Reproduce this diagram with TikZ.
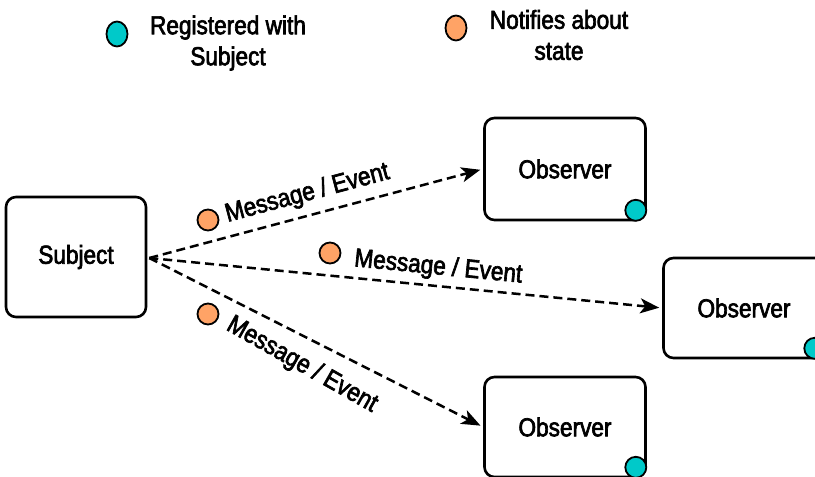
\documentclass[tikz,border=0pt]{standalone}
\usepackage{fontspec}
\setmainfont{Liberation Sans}[FakeStretch=0.87,FakeBold=2.5]
\usetikzlibrary{arrows.meta,calc,shapes.geometric}
\definecolor{tealdot}{RGB}{0,201,201}
\definecolor{orangedot}{RGB}{255,163,102}
\begin{document}
\begin{tikzpicture}[x=1pt,y=-1pt,
  font=\fontsize{26}{31}\selectfont,
  box/.style={draw, line width=2.6pt, rounded corners=10pt, align=center, inner sep=0pt},
  msg/.style={draw, dash pattern=on 9pt off 5pt, line width=2.5pt, shorten >=3pt,
    -{Stealth[length=19pt,width=15pt,inset=5pt]}},
  dotbase/.style={circle, draw, line width=1.8pt, minimum size=21pt, inner sep=0pt},
  dotT/.style={dotbase, fill=tealdot},
  dotO/.style={dotbase, fill=orangedot},
  legdot/.style={ellipse, draw, line width=1.8pt, minimum width=21pt, minimum height=25pt, inner sep=0pt},
  lbl/.style={sloped, inner sep=0pt}]
\useasboundingbox (0,0) rectangle (815,477);
% legend
\node[legdot, fill=tealdot] (legT) at (117,34) {};
\node[align=center] (legTt) at (228,43) {Registered with\\Subject};
\node[legdot, fill=orangedot] (legO) at (456,28) {};
\node[align=center] (legOt) at (559,35) {Notifies about\\state};
% boxes
\node[box, minimum width=140pt, minimum height=120pt] (subj) at (76,257) {Subject};
\node[box, minimum width=161pt, minimum height=102pt] (obs1) at (565,169) {Observer};
\node[box, minimum width=161pt, minimum height=100pt] (obs2) at (744,308) {Observer};
\node[box, minimum width=161pt, minimum height=100pt] (obs3) at (565,427) {Observer};
\node[dotT] (t1) at ($(obs1.south east)+(-11,-11)$) {};
\node[dotT] (t2) at ($(obs2.south east)+(-11,-11)$) {};
\node[dotT] (t3) at ($(obs3.south east)+(-11,-11)$) {};
% connectors
\coordinate (src) at ($(subj.east)+(2,1)$);
\draw[msg] (src) -- (obs1.west) node[lbl, above=8pt, pos=0.49] (l1) {Message / Event};
\draw[msg] (src) -- (obs2.west) node[lbl, above=5pt, pos=0.56] (l2) {Message / Event};
\draw[msg] (src) -- (obs3.west);
\node[inner sep=0pt, rotate=-29.5] (l3) at (302,365) {Message / Event};
\node[dotO] (o1) at (208,220) {};
\node[dotO] (o2) at (330,253) {};
\node[dotO] (o3) at (208,314) {};
\end{tikzpicture}
\end{document}
